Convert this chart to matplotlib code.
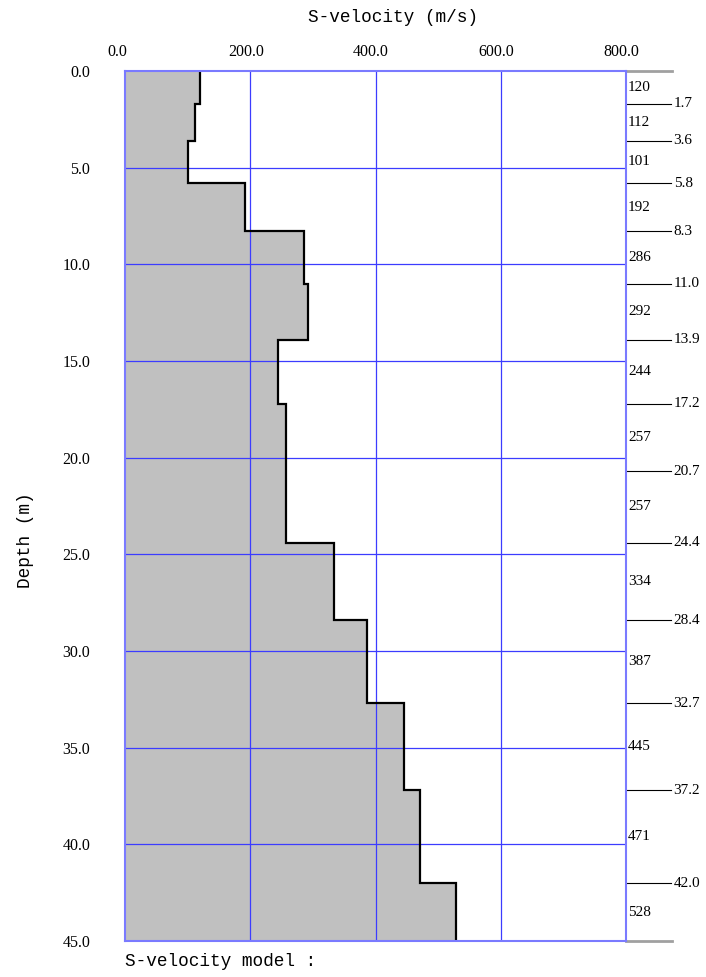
import matplotlib
matplotlib.use("Agg")
import matplotlib.pyplot as plt
import matplotlib.transforms as mtransforms
import numpy as np

# Data
boundaries = [0.0, 1.7, 3.6, 5.8, 8.3, 11.0, 13.9, 17.2, 20.7, 24.4, 28.4, 32.7, 37.2, 42.0, 45.0]
velocities = [120, 112, 101, 192, 286, 292, 244, 257, 257, 334, 387, 445, 471, 528]
x_ticks = [0, 200, 400, 600, 800]
x_ticklabels = ["0.0", "200.0", "400.0", "600.0", "800.0"]
y_ticks = [0, 5, 10, 15, 20, 25, 30, 35, 40, 45]
y_ticklabels = ["0.0", "5.0", "10.0", "15.0", "20.0", "25.0", "30.0", "35.0", "40.0", "45.0"]

serif = ["Liberation Serif", "DejaVu Serif"]
mono = ["Liberation Mono", "DejaVu Sans Mono"]

fig = plt.figure(figsize=(7.06, 9.77), dpi=100)
ax = fig.add_axes([125/706, 36/977, 501/706, 870/977])

edges = np.array(boundaries)
vals = np.array(velocities)

ax.stairs(vals, edges, orientation='horizontal', baseline=0, fill=True,
          color='#c0c0c0', zorder=1)
ax.stairs(vals, edges, orientation='horizontal', baseline=None, fill=False,
          color='black', linewidth=1.6, zorder=4)

ax.set_xlim(0, 800)
ax.set_ylim(45, 0)

grid_c = '#3c3cff'
for xv in x_ticks[1:-1]:
    ax.axvline(xv, color=grid_c, lw=0.9, zorder=3)
for yv in y_ticks[1:-1]:
    ax.axhline(yv, color=grid_c, lw=0.9, zorder=3)

for s in ax.spines.values():
    s.set_color('#7a7aff')
    s.set_linewidth(1.5)
    s.set_zorder(5)

ax.xaxis.tick_top()
ax.set_xticks(x_ticks)
ax.set_xticklabels(x_ticklabels, family=serif, fontsize=11.5)
ax.set_yticks(y_ticks)
ax.set_yticklabels(y_ticklabels, family=serif, fontsize=11.5)
ax.tick_params(axis='x', length=0, pad=8)
ax.tick_params(axis='y', length=0, pad=25)

for i, lab in enumerate(ax.get_xticklabels()):
    dx = -8 if i == 0 else -4.5
    lab.set_transform(lab.get_transform() +
                      mtransforms.ScaledTranslation(dx / 100, 0, fig.dpi_scale_trans))

# Right-side annotations
for i, b in enumerate(boundaries):
    if i == 0 or i == len(boundaries) - 1:
        ax.plot([800, 873], [b, b], color='#a0a0a0', lw=2, clip_on=False, zorder=2)
    else:
        ax.plot([800, 872], [b, b], color='black', lw=0.8, clip_on=False, zorder=2)
        ax.text(876, b, f"{b:.1f}", family=serif, fontsize=11,
                ha='left', va='center', clip_on=False)
for i, v in enumerate(velocities):
    mid = (boundaries[i] + boundaries[i + 1]) / 2
    ax.text(803, mid, f"{v}", family=serif, fontsize=11,
            ha='left', va='center', clip_on=False)

fig.text(393/706, 1 - 18/977, "S-velocity (m/s)", family=mono, fontsize=12.8,
         ha='center', va='center')
fig.text(25/706, 1 - 540/977, "Depth (m)", family=mono, fontsize=12.8,
         ha='center', va='center', rotation=90)
fig.text(125/706, 1 - 962/977, "S-velocity model :", family=mono, fontsize=12.8,
         ha='left', va='center')

fig.savefig("out.png", dpi=100)
